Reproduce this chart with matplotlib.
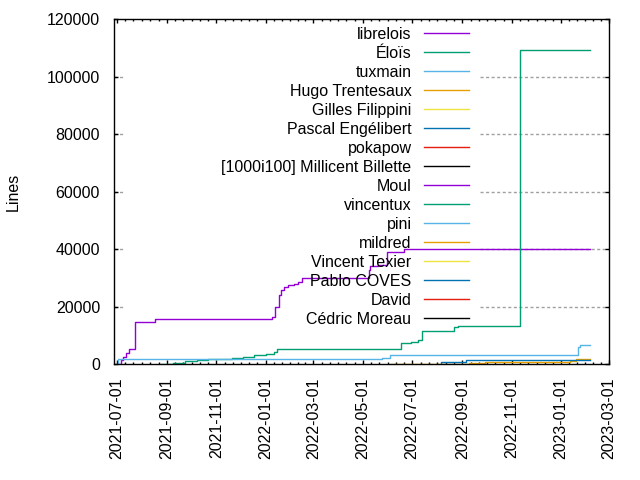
import datetime as dt
import matplotlib
matplotlib.use('Agg')
import matplotlib.pyplot as plt
import matplotlib.dates as mdates

plt.rcParams['font.family'] = ['Liberation Sans', 'DejaVu Sans']
plt.rcParams['font.size'] = 11.5

# autores na ordem da legenda
autores = ['librelois', 'Éloïs', 'tuxmain', 'Hugo Trentesaux', 'Gilles Filippini',
           'Pascal Engélibert', 'pokapow', '[1000i100] Millicent Billette', 'Moul',
           'vincentux', 'pini', 'mildred', 'Vincent Texier', 'Pablo COVES', 'David',
           'Cédric Moreau']
cores = ['#9400d3', '#009e73', '#56b4e9', '#e69f00', '#f0e442', '#0072b2',
         '#e51e10', '#000000'] * 2

# linhas acumuladas (data, valor)
librelois_datas = ['2021-07-03', '2021-07-06', '2021-07-09', '2021-07-13', '2021-07-16',
                   '2021-07-23', '2021-08-17', '2022-01-09', '2022-01-12', '2022-01-18',
                   '2022-01-20', '2022-01-24', '2022-01-29', '2022-02-05', '2022-02-10',
                   '2022-02-15', '2022-05-08', '2022-05-10', '2022-05-20', '2022-05-31',
                   '2022-06-21', '2022-08-05', '2023-02-06']
librelois_linhas = [0, 1300, 2500, 3800, 5300, 14500, 15600, 16500, 19900, 24000,
                    25700, 26900, 27500, 28000, 28600, 30100, 32700, 34100, 34400,
                    39100, 39900, 40200, 40200]

elois_datas = ['2021-08-25', '2021-09-09', '2021-09-23', '2021-10-08', '2021-10-22',
               '2021-11-20', '2021-12-04', '2021-12-17', '2022-01-01', '2022-01-11',
               '2022-01-15', '2022-06-17', '2022-06-30', '2022-07-08', '2022-07-13',
               '2022-08-21', '2022-08-27', '2022-11-11', '2022-11-14', '2023-02-06']
elois_linhas = [0, 450, 1000, 1400, 1750, 2000, 2550, 3100, 3400, 4300, 5100, 7200,
                7550, 8350, 11600, 13000, 13300, 109200, 109400, 109400]

tuxmain_datas = ['2021-07-02', '2021-07-03', '2022-05-25', '2022-06-03', '2023-01-22',
                 '2023-01-24', '2023-02-06']
tuxmain_linhas = [0, 1630, 2200, 3030, 6000, 6600, 6600]

hugo_datas = ['2022-06-05', '2022-09-09', '2022-09-29', '2023-01-12', '2023-01-19',
              '2023-02-06']
hugo_linhas = [100, 240, 590, 1000, 1630, 1630]

pascal_datas = ['2022-08-05', '2022-08-06', '2022-09-05', '2023-02-06']
pascal_linhas = [0, 800, 1280, 1280]

series = {
    'librelois': (librelois_datas, librelois_linhas),
    'Éloïs': (elois_datas, elois_linhas),
    'tuxmain': (tuxmain_datas, tuxmain_linhas),
    'Hugo Trentesaux': (hugo_datas, hugo_linhas),
    'Pascal Engélibert': (pascal_datas, pascal_linhas),
}

y_ticks = [0, 20000, 40000, 60000, 80000, 100000, 120000]
x_ticks = ['2021-07-01', '2021-09-01', '2021-11-01', '2022-01-01', '2022-03-01',
           '2022-05-01', '2022-07-01', '2022-09-01', '2022-11-01', '2023-01-01',
           '2023-03-01']


def para_data(s):
    return dt.datetime.strptime(s, '%Y-%m-%d')


fig = plt.figure(figsize=(6.4, 4.8), dpi=100)
ax = fig.add_axes([114 / 640, 116 / 480, 495 / 640, 344.7 / 480])

# grade horizontal (escondida atrás da caixa da legenda)
for y in y_ticks[1:-1]:
    ax.axhline(y, xmin=0.739, xmax=1, color='#a0a0a0', lw=1.0,
               ls=(0, (2.2, 1.8)), zorder=0)
    ax.axhline(y, xmin=0.0, xmax=0.022, color='#a0a0a0', lw=1.0,
               ls=(0, (2.2, 1.8)), zorder=0)

for nome, cor in zip(autores, cores):
    if nome in series:
        d, v = series[nome]
        ax.plot([para_data(s) for s in d], v, color=cor, lw=1.0,
                drawstyle='steps-post', zorder=2)

# legenda estilo gnuplot: texto à direita, amostra de linha depois
for i, (nome, cor) in enumerate(zip(autores, cores)):
    yf = 1 - (32.7 + 19 * i - 19.3) / 344.7
    ax.text(0.601, yf, nome, ha='right', va='center_baseline',
            transform=ax.transAxes, zorder=3)
    ax.plot([0.626, 0.717], [yf, yf], color=cor, lw=1.0,
            transform=ax.transAxes, zorder=3)

ax.set_ylim(0, 120000)
ax.set_yticks(y_ticks)
ax.set_yticklabels([str(v) for v in y_ticks])
ax.set_xlim(dt.datetime(2021, 6, 27, 16), dt.datetime(2023, 3, 1))

maiores = [para_data(s) for s in x_ticks]
ax.set_xticks(maiores)
ax.set_xticklabels(x_ticks, rotation=90)
menores = []
for a, b in zip(maiores[:-1], maiores[1:]):
    passo = (b - a) / 6
    menores += [a + passo * k for k in range(1, 6)]
ax.set_xticks(menores, minor=True)
ax.yaxis.set_minor_locator(matplotlib.ticker.NullLocator())

ax.tick_params(which='both', direction='in', top=True, right=True, pad=10)
ax.tick_params(which='major', length=3, width=1)
ax.tick_params(which='minor', length=1.5, width=1)
for sp in ax.spines.values():
    sp.set_linewidth(1.0)

ax.set_ylabel('Lines')
ax.yaxis.set_label_coords(-0.188, 0.5)

fig.savefig('out.png', dpi=100)
